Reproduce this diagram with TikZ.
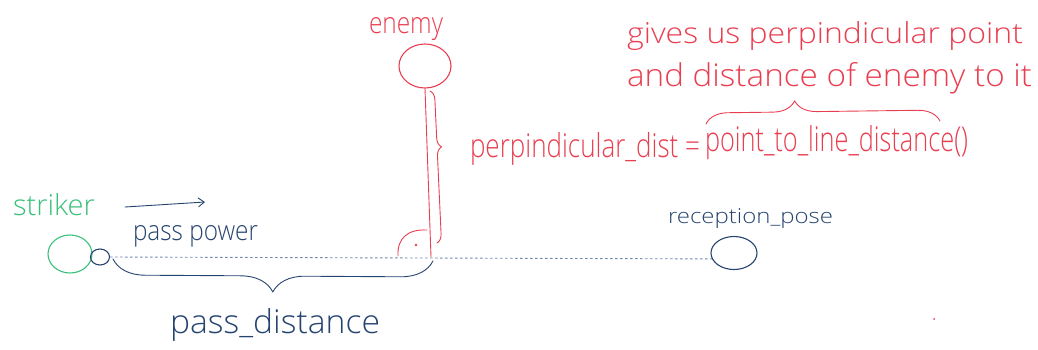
\documentclass[tikz,border=0pt]{standalone}
\usepackage{fontspec}
\setmainfont{Open Sans Light}
\usepackage{graphicx}
\usetikzlibrary{shapes.geometric,arrows.meta,decorations.pathreplacing}
\definecolor{hred}{RGB}{232,62,80}
\definecolor{hblue}{RGB}{38,68,112}
\definecolor{hgreen}{RGB}{58,192,122}
\definecolor{hdot}{RGB}{112,136,172}
\newcommand{\fitwh}[3]{\resizebox{#1pt}{#2pt}{#3}}
\tikzset{
  pen/.style={line width=1.1pt, line cap=round, line join=round},
  ballshape/.style={ellipse, draw, pen, inner sep=0pt},
  lbl/.style={anchor=base west, inner sep=0pt, outer sep=0pt},
  hbrace/.style={pen, decorate, decoration={brace, #1}},
}
\begin{document}
\begin{tikzpicture}[x=1pt,y=-1pt]
\useasboundingbox (0,0) rectangle (1038,349);
% balls / players
\node[ballshape, hgreen, minimum width=44pt, minimum height=38pt] (striker) at (70,254) {};
\node[ballshape, hblue, minimum width=19pt, minimum height=16pt] (ball) at (100,257) {};
\node[ballshape, hblue, minimum width=46pt, minimum height=33pt] (recv) at (734,253) {};
\node[ballshape, hred, minimum width=52pt, minimum height=44pt] (enemy) at (425,66) {};
% labels
\node[lbl, text=hgreen] (strikerlbl) at (13,215) {\fitwh{82}{22}{striker}};
\node[lbl, text=hblue] (passpower) at (133,240) {\fitwh{125}{15}{pass power}};
\node[lbl, text=hred] (enemylbl) at (369,33) {\fitwh{74}{16}{enemy}};
\node[lbl, text=hblue] (recvlbl) at (668,223) {\fitwh{165}{15}{reception\_pose}};
\node[lbl, text=hblue] (passdist) at (170,333) {\fitwh{210}{25}{pass\_distance}};
\node[lbl, text=hred] (perpdist) at (470,157) {\fitwh{230}{25}{perpindicular\_dist =}};
\node[lbl, text=hred] (ptl) at (705,151) {\fitwh{263}{26}{point\_to\_line\_distance()}};
\node[lbl, text=hred] (gives1) at (627,43) {\fitwh{396}{22}{gives us perpindicular point}};
\node[lbl, text=hred] (gives2) at (627,86) {\fitwh{405}{24}{and distance of enemy to it}};
% pass line
\draw[hdot, line width=0.9pt, dash pattern=on 2.5pt off 2.5pt] (ball.east) -- (recv.195);
% pass power arrow
\coordinate (pa1) at (125,207);
\coordinate (pa2) at (205,202);
\draw[pen, hblue, line width=0.9pt, -{Straight Barb[length=6pt,width=9pt]}] (pa1) -- (pa2);
% perpendicular from enemy
\coordinate (foot) at (431,257);
\draw[pen, hred, line width=0.9pt] (enemy.south) -- (foot);
% right angle mark
\coordinate (ra1) at (398,256);
\coordinate (ra2) at (427,230);
\draw[pen, hred, line width=0.9pt] (ra1) .. controls (397,238) and (408,229) .. (ra2);
\fill[hred] (416,245) circle (1.4pt);
% braces
\coordinate (vb1) at (430,91);
\coordinate (vb2) at (437,243);
\draw[hbrace={amplitude=9pt, aspect=0.37}, hred, line width=0.9pt] (vb1) -- (vb2);
\coordinate (pb1) at (113,259);
\coordinate (pb2) at (433,261);
\draw[hbrace={amplitude=32pt, aspect=0.5, mirror}, hblue, line width=0.9pt] (pb1) -- (pb2);
\coordinate (tb1) at (706,124);
\coordinate (tb2) at (940,121);
\draw[hbrace={amplitude=22pt, aspect=0.38}, hred, line width=0.9pt] (tb1) -- (tb2);
% stray dot
\fill[hred] (934,319) circle (1pt);
\end{tikzpicture}
\end{document}
